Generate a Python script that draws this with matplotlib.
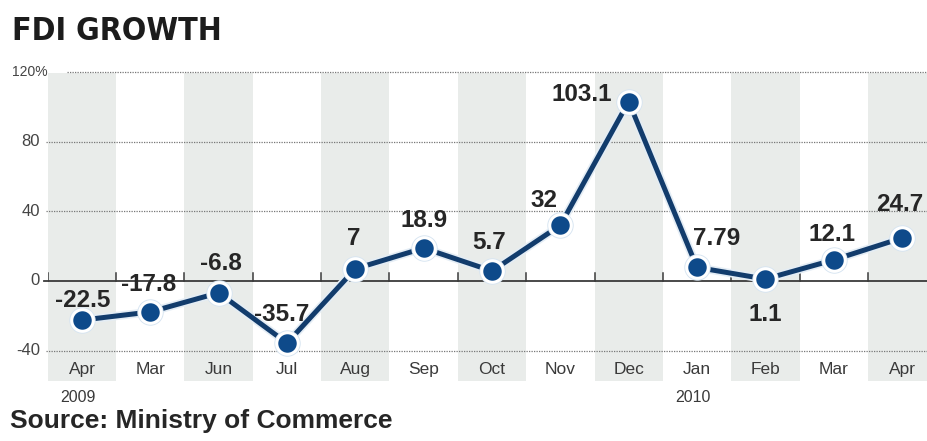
import matplotlib
matplotlib.use('Agg')
import matplotlib.pyplot as plt
import matplotlib.patheffects as pe
from matplotlib import font_manager

# FDI growth, year-on-year %, Apr 2009 - Apr 2010
months = ['Apr', 'Mar', 'Jun', 'Jul', 'Aug', 'Sep', 'Oct',
          'Nov', 'Dec', 'Jan', 'Feb', 'Mar', 'Apr']
growth = [-22.5, -17.8, -6.8, -35.7, 7, 18.9, 5.7, 32, 103.1, 7.79, 1.1, 12.1, 24.7]
value_labels = ['-22.5', '-17.8', '-6.8', '-35.7', '7', '18.9', '5.7',
                '32', '103.1', '7.79', '1.1', '12.1', '24.7']
years = {0: '2009', 9: '2010'}
yticks = [120, 80, 40, 0, -40]
ytick_labels = ['120%', '80', '40', '0', '-40']

# label placement relative to each point (pixels)
label_offsets = [(1, 20), (-2, 27), (2, 29), (-5, 29), (-2, 30), (0, 28), (-3, 29),
                 (-16, 25), (-47, 7), (20, 29), (0, -35), (-2, 25), (-2, 33)]

# pick the narrowest bold face available for the headline
rank = {'ultra-condensed': 0, 'extra-condensed': 1, 'condensed': 2, 'semi-condensed': 3}
fonts = font_manager.fontManager.ttflist
cond = [f for f in fonts if f.weight in (700, 'bold') and
        (f.stretch in rank or 'Narrow' in f.name or 'Condensed' in f.name)]
cond.sort(key=lambda f: rank.get(f.stretch, 2))
if cond:
    HEAD = dict(family=cond[0].name, stretch=cond[0].stretch)
else:
    HEAD = dict(family='Liberation Sans')
SANS = 'Liberation Sans'

LINE = '#123c6c'
DOT = '#0e4a8a'
BAND = '#e9ecea'

fig = plt.figure(figsize=(9.28, 4.41), dpi=100)
ax = fig.add_axes([47.8 / 928, 1 - 381 / 441, 1 - 47.8 / 928, (381 - 71.3) / 441])
ymin, ymax = -57.5, 120.5
ax.set_xlim(-0.5, 12.38)
ax.set_ylim(ymin, ymax)
ax.axis('off')

x = list(range(len(months)))

# alternating column shading
for i in x[::2]:
    ax.axvspan(i - 0.5, i + 0.5, ymin=0, ymax=(119.3 - ymin) / (ymax - ymin),
               color=BAND, lw=0, zorder=0)

# gridlines
for v in yticks:
    if v == 0:
        continue
    x0 = -0.22 if v == 120 else -0.52
    ax.plot([x0, 12.4], [v, v], color='#777777', lw=0.9, ls=(0, (1, 1)),
            clip_on=False, zorder=1)

# zero line with small ticks at column boundaries
ax.plot([-0.55, 12.4], [0, 0], color='#3a3a3a', lw=1.3, clip_on=False, zorder=2)
for i in range(-1, 13):
    ax.plot([i + 0.5, i + 0.5], [0, 4.5], color='#3a3a3a', lw=1.1, zorder=2)

# y tick labels
for v, lab in zip(yticks, ytick_labels):
    if v == 120:
        ax.annotate(lab, (-0.5, v), xytext=(-36, 0), textcoords='offset pixels',
                    ha='left', va='center', fontsize=10, family=SANS,
                    color='#444444', annotation_clip=False)
    else:
        ax.annotate(lab, (-0.5, v), xytext=(-8, 0), textcoords='offset pixels',
                    ha='right', va='center', fontsize=12, family=SANS,
                    color='#444444', annotation_clip=False)

# month labels and years
for i, m in zip(x, months):
    ax.text(i, -50.8, m, ha='center', va='center', fontsize=12.5, family=SANS,
            color='#3a3a3a')
for i, yr in years.items():
    ax.annotate(yr, (i, ymin), xytext=(-4, -16), textcoords='offset pixels',
                ha='center', va='center', fontsize=11.5, family=SANS,
                color='#3a3a3a', annotation_clip=False)

# series
ax.plot(x, growth, color=LINE, lw=3.6, zorder=4, solid_capstyle='round',
        path_effects=[pe.Stroke(linewidth=6, foreground='#e4edf5'), pe.Normal()])
ax.plot(x, growth, ls='none', marker='o', ms=19, mfc='#d6e4f1', mec='none', zorder=5)
ax.plot(x, growth, ls='none', marker='o', ms=15.5, mfc=DOT, mec='white', mew=2.2,
        zorder=6)

for i, v, lab, (dx, dy) in zip(x, growth, value_labels, label_offsets):
    ax.annotate(lab, (i, v), xytext=(dx, dy), textcoords='offset pixels',
                ha='center', va='center', fontsize=17.5, fontweight='bold',
                family=SANS, color='#262626', zorder=7)

# headline, sized to span about 210 px
title = fig.text(12 / 928, 1 - 32 / 441, 'FDI GROWTH', ha='left', va='center',
                 fontweight='bold', color='#1c1c1c', fontsize=30, **HEAD)
renderer = fig.canvas.get_renderer()
w = title.get_window_extent(renderer).width
title.set_fontsize(min(34, 30 * 210 / w))

fig.text(10 / 928, 1 - 421 / 441, 'Source: Ministry of Commerce', ha='left',
         va='center', fontsize=19, fontweight='bold', family=SANS, color='#262626')

fig.savefig('out.png', dpi=100)
